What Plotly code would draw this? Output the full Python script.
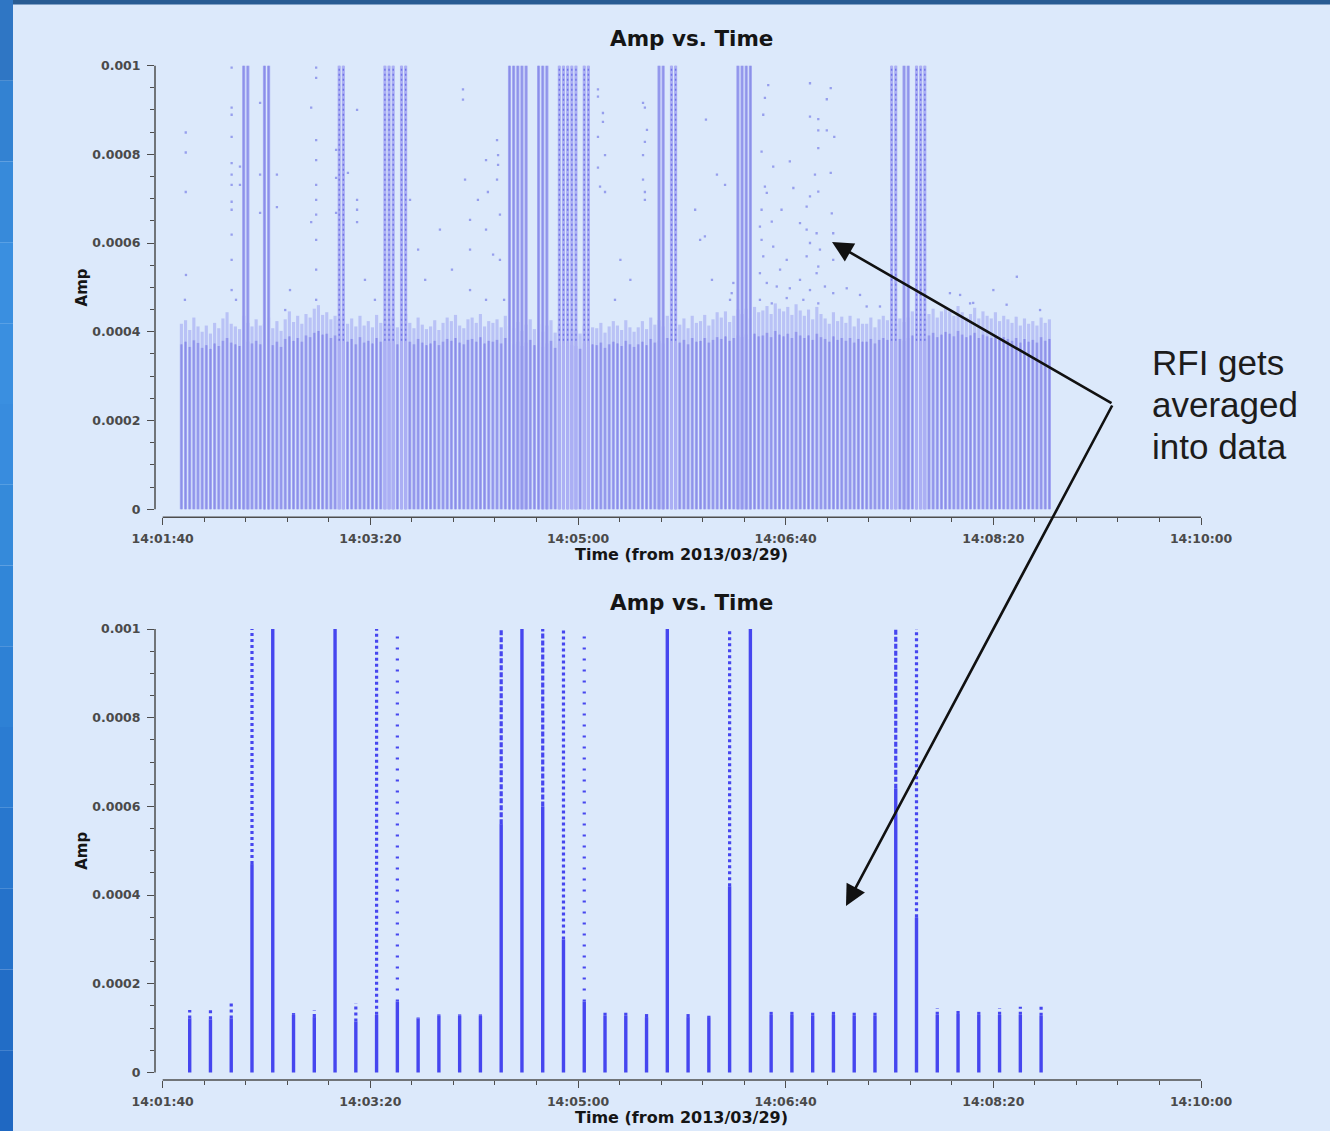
import plotly.graph_objects as go

# ---------------------------------------------------------------- data
TIME_TICK_S = [0, 100, 200, 300, 400, 500]          # seconds after 14:01:40
TIME_TICK_LABELS = ["14:01:40", "14:03:20", "14:05:00", "14:06:40", "14:08:20", "14:10:00"]
AMP_TICKS = [0, 0.0002, 0.0004, 0.0006, 0.0008, 0.001]
AMP_TICK_LABELS = ["0", "0.0002", "0.0004", "0.0006", "0.0008", "0.001"]
AMP_MAX = 0.001
UNIT = 1e-6                                         # amplitudes below are in units of 1e-6

# top panel: 2 s integrations starting 14:01:49 (rows = 10 s blocks of 5 integrations)
TOP_FIRST_S = 9
TOP_STEP_S = 2
top_core = [
    [372, 378, 366, 381, 375], [364, 370, 362, 374, 368], [380, 386, 376, 372, 368],
    [382, 378, 374, 380, 372], [376, 384, 370, 378, 366], [384, 390, 380, 386, 378],
    [392, 388, 398, 402, 394], [396, 386, 392, 384, 390], [378, 384, 372, 388, 376],
    [380, 374, 386, 378, 382], [376, 384, 372, 380, 388], [378, 372, 384, 376, 370],
    [374, 380, 370, 378, 384], [380, 386, 376, 372, 382], [384, 378, 388, 374, 380],
    [378, 382, 374, 386, 376], [372, 378, 368, 376, 382], [370, 376, 366, 374, 380],
    [364, 372, 368, 376, 370], [368, 362, 374, 366, 372], [370, 376, 364, 372, 378],
    [374, 368, 380, 372, 366], [372, 378, 370, 384, 376], [380, 374, 386, 378, 372],
    [376, 382, 372, 386, 378], [380, 386, 376, 382, 388], [384, 390, 380, 386, 392],
    [388, 394, 384, 396, 390], [392, 398, 388, 402, 394], [390, 396, 386, 400, 392],
    [386, 392, 382, 396, 388], [384, 378, 390, 382, 386], [380, 386, 376, 384, 378],
    [378, 384, 374, 382, 386], [382, 388, 378, 384, 380], [386, 392, 382, 390, 384],
    [392, 398, 388, 394, 400], [396, 390, 402, 394, 388], [392, 398, 386, 394, 390],
    [386, 392, 382, 388, 384], [380, 386, 376, 384, 378], [382, 376, 388, 380, 384],
]
top_fuzz = [
    [418, 426, 404, 432, 412], [400, 414, 396, 420, 408], [430, 444, 418, 412, 406],
    [436, 420, 412, 428, 414], [418, 432, 408, 424, 402], [428, 446, 422, 436, 418],
    [440, 432, 452, 460, 438], [444, 428, 436, 426, 434], [418, 430, 412, 436, 414],
    [424, 410, 438, 420, 428], [416, 432, 410, 424, 440], [420, 408, 432, 416, 406],
    [412, 426, 404, 420, 432], [424, 438, 414, 408, 428], [432, 420, 440, 412, 424],
    [420, 428, 410, 436, 414], [408, 422, 402, 416, 428], [406, 418, 400, 414, 426],
    [398, 412, 404, 420, 406], [404, 396, 414, 400, 410], [408, 420, 398, 412, 424],
    [414, 404, 426, 410, 400], [410, 424, 406, 432, 416], [426, 412, 436, 420, 410],
    [416, 430, 408, 436, 420], [424, 438, 414, 428, 444], [432, 446, 422, 436, 450],
    [440, 452, 430, 456, 444], [448, 458, 440, 464, 452], [446, 456, 438, 462, 448],
    [436, 450, 428, 456, 440], [430, 418, 444, 424, 434], [420, 436, 412, 430, 418],
    [418, 432, 410, 428, 436], [426, 440, 418, 430, 422], [432, 446, 424, 440, 428],
    [440, 452, 432, 446, 456], [446, 436, 458, 444, 432], [440, 454, 430, 446, 436],
    [430, 444, 424, 436, 428], [420, 434, 414, 430, 418], [424, 414, 432, 420, 428],
]
# integrations hit by RFI (values run off the top of the plot)
top_rfi_solid_s = [39, 41, 49, 51, 167, 169, 171, 173, 175, 181, 183, 185,
                   239, 241, 277, 279, 281, 283, 357, 359]
top_rfi_dotted_s = [85, 87, 107, 109, 111, 115, 117, 191, 193, 195, 197, 199,
                    203, 205, 245, 247, 351, 353, 363, 365, 367]
# isolated outlier points (seconds after 14:01:40, amplitude in 1e-6)
top_scatter_s = [
    11.2, 10.7, 11.1, 11.1, 11.1, 33.2, 33.2, 33.2, 33.2, 33.2, 33.2, 33.2, 33.2, 33.2, 33.2,
    33.2, 33.2, 37.2, 37.2, 35.3, 46.9, 46.9, 46.9, 55.0, 55.0, 61.3, 59.0,
    71.5, 71.5, 73.9, 73.9, 73.9, 73.9, 73.9, 73.9, 73.9, 73.9, 73.9, 73.9, 83.5, 83.5, 83.5,
    89.2, 93.6, 93.6, 93.6, 93.6, 97.4, 102.2,
    119.1, 123.0, 126.4, 133.5, 139.3, 144.6, 144.6, 145.6, 148.0, 148.0, 148.0, 151.8, 155.7,
    155.7, 155.7, 159.1, 161.0, 161.0, 162.4, 162.4, 164.4, 161.5, 161.5, 156.6,
    209.6, 209.6, 212.0, 212.0, 213.0, 209.6, 209.6, 210.6, 213.0, 231.3, 232.2, 233.2, 232.2,
    231.3, 231.3, 232.2, 232.2, 220.4, 225.2, 217.8,
    261.6, 266.9, 270.8, 258.8, 264.5, 273.2, 256.4,
    291.6, 290.0, 289.2, 311.7, 321.7, 319.8, 311.7, 315.7, 315.7, 319.8, 323.4, 288.4, 315.7,
    294.0, 302.0, 321.7, 314.1, 290.0, 290.9, 303.7, 311.7, 315.7, 288.4, 298.0, 310.1, 322.2,
    287.6, 293.3, 306.9, 310.1, 314.9, 322.9, 288.4, 294.0, 311.7, 316.5, 289.2, 300.5, 310.1,
    315.7, 322.9, 287.6, 297.3, 306.9, 314.9, 290.9, 295.7, 302.0, 311.7, 318.9, 322.9, 287.6,
    293.3, 300.5, 308.5, 315.7, 274.8, 274.0, 261.1, 329.4, 335.8, 345.4, 339.0,
    411.3, 400.0, 384.0, 379.1, 388.8, 406.4, 422.5, 390.3,
]
top_scatter_amp = [
    528, 472, 849, 804, 715, 995, 905, 889, 839, 780, 754, 731, 693, 675, 619,
    562, 494, 772, 731, 472, 916, 754, 668, 754, 681, 494, 449,
    905, 647, 995, 972, 832, 787, 731, 697, 664, 607, 540, 472, 810, 747, 668,
    758, 900, 697, 675, 647, 517, 472,
    697, 585, 517, 630, 540, 946, 923, 743, 652, 585, 494, 697, 787,
    630, 472, 574, 832, 743, 664, 562, 472, 798, 776, 715,
    946, 930, 893, 873, 798, 839, 770, 727, 715, 916, 905, 855, 828,
    798, 743, 715, 697, 562, 517, 472,
    878, 754, 731, 607, 517, 472, 675,
    956, 927, 889, 960, 949, 924, 885, 879, 854, 854, 839, 806, 814,
    772, 784, 758, 754, 727, 713, 724, 705, 716, 675, 675, 682, 667,
    637, 648, 645, 630, 622, 622, 607, 592, 600, 585, 570, 562, 570,
    547, 562, 532, 540, 517, 532, 510, 502, 498, 494, 502, 487, 472,
    464, 476, 472, 464, 510, 487, 615, 498, 483, 457, 457,
    524, 494, 483, 487, 464, 461, 449, 465,
]

# bottom panel: 10 s averages starting 14:01:53
BOTTOM_FIRST_S = 13
BOTTOM_STEP_S = 10
bottom_core = [122, 120, 122, 470, 1000, 130, 125, 1000, 115, 130, 160, 122, 128, 128, 128,
               560, 1000, 600, 300, 160, 128, 128, 125, 1000, 125, 125, 420, 1000, 130, 130,
               128, 130, 128, 128, 640, 350, 130, 132, 130, 130, 130, 128]
bottom_top = [141, 141, 157, 1000, 1000, 134, 140, 1000, 156, 1000, 1000, 124, 131, 131, 131,
              1000, 1000, 1000, 1000, 1000, 140, 135, 135, 1000, 135, 128, 1000, 1000, 140, 140,
              140, 140, 137, 135, 1000, 1000, 145, 140, 142, 145, 148, 155]
bottom_upper_pattern = ["m", "m", "m", "m", "m", "m", "m", "m", "m", "m", "s", "m", "m", "m", "m",
                        "d", "m", "d", "m", "s", "m", "m", "m", "m", "m", "m", "m", "m", "m", "m",
                        "m", "m", "m", "m", "d", "m", "m", "m", "m", "m", "m", "m"]

TITLE = "Amp vs. Time"
X_TITLE = "Time (from 2013/03/29)"
Y_TITLE = "Amp"
NOTE_LINES = ["RFI gets", "averaged", "into data"]

# ---------------------------------------------------------------- geometry
W, H = 1330, 1131
Y_AXIS_PX = 155
X_START_PX, X_END_PX = 162.7, 1201.0
PX_PER_S = (X_END_PX - X_START_PX) / (TIME_TICK_S[-1] - TIME_TICK_S[0])
X_MIN = -(X_START_PX - Y_AXIS_PX) / PX_PER_S
X_MAX = TIME_TICK_S[-1]

PANELS = [  # (top of y=AMP_MAX, y of 0, x-axis line) in px
    (65.5, 509.3, 517.3),
    (629.0, 1072.5, 1080.0),
]


def yfrac(px):
    return 1 - px / H


def segments(xs, y0s, y1s):
    sx, sy = [], []
    for x, a, b in zip(xs, y0s, y1s):
        sx += [x, x, None]
        sy += [a, b, None]
    return sx, sy


BG = "#dce9fb"
TICK_COLOR = "#4d4d4d"
LABEL_COLOR = "#4a4a4a"
TOP_COL = "#a0a4f2"
TOP_CENTER = "rgba(112,117,218,0.6)"
BOTTOM_COLOR = "#4646ef"

fig = go.Figure()

# ---------------------------------------------------------------- top panel traces
core_flat = [v * UNIT for row in top_core for v in row]
fuzz_flat = [v * UNIT for row in top_fuzz for v in row]
top_t = [TOP_FIRST_S + TOP_STEP_S * k for k in range(len(core_flat))]


def add_top_lines(xs, y0s, y1s, color, width, dash="solid"):
    sx, sy = segments(xs, y0s, y1s)
    fig.add_trace(go.Scatter(x=sx, y=sy, mode="lines",
                             line=dict(color=color, width=width, dash=dash),
                             xaxis="x", yaxis="y", hoverinfo="skip"))


# fuzzy upper edge of the dense point cloud
add_top_lines(top_t, core_flat, fuzz_flat, "rgba(150,156,242,0.5)", 3.1)
# dense columns
add_top_lines(top_t, [0] * len(top_t), core_flat, TOP_COL, 3.1)
add_top_lines(top_t, [0] * len(top_t), core_flat, TOP_CENTER, 0.8)
# RFI columns reaching the top of the plot
add_top_lines(top_rfi_solid_s, [0] * len(top_rfi_solid_s), [AMP_MAX] * len(top_rfi_solid_s),
              TOP_COL, 3.1)
add_top_lines(top_rfi_solid_s, [0] * len(top_rfi_solid_s), [AMP_MAX] * len(top_rfi_solid_s),
              TOP_CENTER, 0.8)
add_top_lines(top_rfi_dotted_s, [0] * len(top_rfi_dotted_s), [AMP_MAX] * len(top_rfi_dotted_s),
              "#abaff4", 3.1)
add_top_lines(top_rfi_dotted_s, [0.00038] * len(top_rfi_dotted_s), [AMP_MAX] * len(top_rfi_dotted_s),
              "rgba(85,90,225,0.7)", 1.4, "2px,3px")
# isolated outliers
fig.add_trace(go.Scatter(x=top_scatter_s, y=[v * UNIT for v in top_scatter_amp], mode="markers",
                         marker=dict(symbol="square", size=2.3, color="rgba(105,110,228,0.6)",
                                     line=dict(width=0)),
                         xaxis="x", yaxis="y", hoverinfo="skip"))

# ---------------------------------------------------------------- bottom panel traces
bottom_t = [BOTTOM_FIRST_S + BOTTOM_STEP_S * j for j in range(len(bottom_core))]
cx, cy = segments(bottom_t, [0] * len(bottom_t), [c * UNIT for c in bottom_core])
fig.add_trace(go.Scatter(x=cx, y=cy, mode="lines", line=dict(color=BOTTOM_COLOR, width=3.4),
                         xaxis="x2", yaxis="y2", hoverinfo="skip"))
DASHES = {"d": "5px,2px", "m": "3px,3px", "s": "2px,9px"}
for code, dash in DASHES.items():
    sel = [(t, c, top) for t, c, top, p in zip(bottom_t, bottom_core, bottom_top, bottom_upper_pattern)
           if p == code and top > c]
    ux, uy = segments([s[0] for s in sel], [s[1] * UNIT for s in sel], [s[2] * UNIT for s in sel])
    fig.add_trace(go.Scatter(x=ux, y=uy, mode="lines",
                             line=dict(color=BOTTOM_COLOR, width=3.2, dash=dash),
                             xaxis="x2", yaxis="y2", hoverinfo="skip"))

# ---------------------------------------------------------------- axes
tick_font = dict(family="DejaVu Sans", size=12.5, color=LABEL_COLOR, weight="bold")
layout = dict(
    width=W, height=H, margin=dict(l=0, r=0, t=0, b=0, pad=0, autoexpand=False),
    paper_bgcolor=BG, plot_bgcolor="rgba(0,0,0,0)",
    showlegend=False,
)
shapes = []
annotations = []
for i, (ytop, yzero, yaxis_px) in enumerate(PANELS):
    sx = "" if i == 0 else str(i + 1)
    ymin = -(yaxis_px - yzero) / (yzero - ytop) * AMP_MAX
    layout["xaxis" + sx] = dict(
        domain=[Y_AXIS_PX / W, X_END_PX / W], range=[X_MIN, X_MAX], anchor="y" + sx,
        tickmode="array", tickvals=TIME_TICK_S, ticktext=TIME_TICK_LABELS,
        ticks="outside", ticklen=7, tickwidth=1.4, tickcolor=TICK_COLOR,
        minor=dict(tickmode="linear", tick0=0, dtick=20, ticks="outside", ticklen=4,
                   tickwidth=1.3, tickcolor=TICK_COLOR, showgrid=False),
        showgrid=False, zeroline=False, showline=False, tickfont=tick_font,
        ticklabelstandoff=3, fixedrange=True, automargin=False,
    )
    layout["yaxis" + sx] = dict(
        domain=[yfrac(yaxis_px), yfrac(ytop)], range=[ymin, AMP_MAX], anchor="x" + sx,
        tickmode="array", tickvals=AMP_TICKS, ticktext=AMP_TICK_LABELS,
        ticks="outside", ticklen=7, tickwidth=1.4, tickcolor=TICK_COLOR,
        minor=dict(tickmode="linear", tick0=0, dtick=0.00005, ticks="outside", ticklen=4,
                   tickwidth=1.3, tickcolor=TICK_COLOR, showgrid=False),
        showgrid=False, zeroline=False, showline=False, tickfont=tick_font,
        ticklabelstandoff=4, fixedrange=True, automargin=False,
    )
    # axis lines
    shapes.append(dict(type="line", xref="paper", yref="y" + sx, x0=Y_AXIS_PX / W, x1=Y_AXIS_PX / W,
                       y0=0, y1=AMP_MAX, line=dict(color=TICK_COLOR, width=1.5)))
    shapes.append(dict(type="line", xref="x" + sx, yref="y" + sx + " domain", x0=0, x1=X_MAX,
                       y0=0, y1=0, line=dict(color=TICK_COLOR, width=1.5)))
    # titles
    annotations.append(dict(text="<b>" + TITLE + "</b>", xref="paper", yref="paper",
                            x=691 / W, y=yfrac(ytop - 26.5), xanchor="center", yanchor="middle",
                            showarrow=False, font=dict(family="DejaVu Sans", size=21.5, color="#151515")))
    annotations.append(dict(text="<b>" + X_TITLE + "</b>", xref="paper", yref="paper",
                            x=681 / W, y=yfrac(yaxis_px + 37.5), xanchor="center", yanchor="middle",
                            showarrow=False, font=dict(family="DejaVu Sans", size=16, color="#151515")))
    annotations.append(dict(text="<b>" + Y_TITLE + "</b>", xref="paper", yref="paper",
                            x=82 / W, y=yfrac((ytop + yzero) / 2), xanchor="center", yanchor="middle",
                            textangle=-90, showarrow=False,
                            font=dict(family="DejaVu Sans", size=15, color="#151515")))

# note text
for k, line in enumerate(NOTE_LINES):
    annotations.append(dict(text=line, xref="paper", yref="paper", x=1150 / W,
                            y=yfrac(362 + 42.5 * k), xanchor="left", yanchor="middle",
                            showarrow=False,
                            font=dict(family="Liberation Sans", size=35, color="#1c1c1c")))
# arrows (tail at the note, heads in each panel)
TAIL = (1113, 404)
for head in [(832, 242), (846, 906)]:
    annotations.append(dict(text="", xref="paper", yref="paper", x=head[0] / W, y=yfrac(head[1]),
                            ax=TAIL[0] - head[0], ay=TAIL[1] - head[1], showarrow=True,
                            arrowhead=2, arrowsize=1.6, arrowwidth=2.6, arrowcolor="#111111",
                            standoff=0, startstandoff=0))

# slide frame: top bar and left gradient strip
shapes.append(dict(type="rect", xref="paper", yref="paper", x0=0, x1=1, y0=yfrac(4.5), y1=1,
                   fillcolor="#295c93", line=dict(width=0), layer="below"))
strip_colors = ["#2f76c4", "#3382d2", "#378ada", "#3a8fe0", "#3a8fe0", "#388cde", "#358ada",
                "#3186d8", "#2e81d5", "#2b7cd2", "#2877ce", "#2572ca", "#226dc6", "#1f68c2"]
n = len(strip_colors)
for k, col in enumerate(strip_colors):
    shapes.append(dict(type="rect", xref="paper", yref="paper", x0=0, x1=13 / W,
                       y0=1 - (k + 1) / n, y1=1 - k / n, fillcolor=col, line=dict(width=0),
                       layer="below"))

layout["shapes"] = shapes
layout["annotations"] = annotations
fig.update_layout(**layout)

fig.write_html("out.html")
